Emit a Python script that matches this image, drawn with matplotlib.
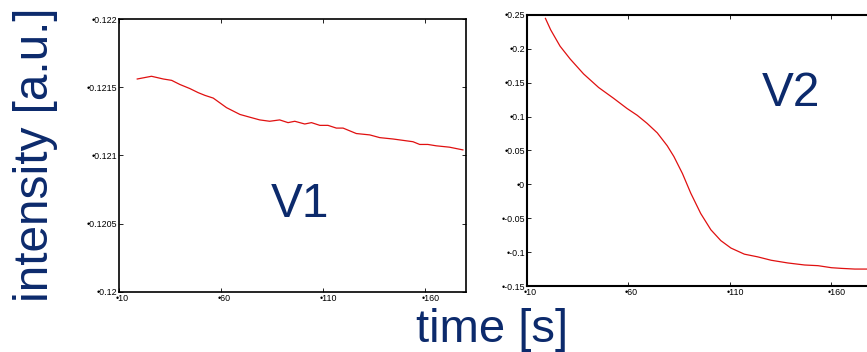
import matplotlib
matplotlib.use("Agg")
import matplotlib.pyplot as plt
import matplotlib.transforms as mt

plt.rcParams['font.family'] = ['Liberation Sans', 'DejaVu Sans']

# ---- data ----
v1_t = [18.8, 25.8, 31.6, 35.7, 39.7, 44.6, 48.7, 52.0, 56.1, 62.6, 69.2, 74.0,
        78.9, 83.8, 88.7, 92.8, 96.1, 101.0, 104.3, 108.4, 112.4, 116.5, 119.8,
        126.3, 132.9, 137.8, 144.3, 149.2, 154.1, 157.4, 161.4, 165.5, 172.0, 178.6]
v1_i = [0.12156, 0.12158, 0.12156, 0.12155, 0.12152, 0.12149, 0.12146, 0.12144,
        0.12142, 0.12135, 0.12130, 0.12128, 0.12126, 0.12125, 0.12126, 0.12124,
        0.12125, 0.12123, 0.12124, 0.12122, 0.12122, 0.12120, 0.12120, 0.12116,
        0.12115, 0.12113, 0.12112, 0.12111, 0.12110, 0.12108, 0.12108, 0.12107,
        0.12106, 0.12104]

v2_t = [19.1, 21.7, 26.3, 31.3, 37.9, 45.3, 52.7, 59.3, 64.3, 69.2, 74.2, 79.1,
        82.4, 86.6, 90.7, 95.6, 100.6, 105.5, 110.5, 117.1, 123.7, 130.3, 138.5,
        146.8, 153.4, 160.0, 165.0, 171.5, 178.2]
v2_i = [0.245, 0.228, 0.204, 0.185, 0.163, 0.143, 0.127, 0.112, 0.102, 0.090,
        0.076, 0.057, 0.041, 0.016, -0.013, -0.043, -0.067, -0.083, -0.094,
        -0.103, -0.107, -0.112, -0.116, -0.119, -0.120, -0.123, -0.124, -0.125,
        -0.125]

x_ticks = [10, 60, 110, 160]
x_labels = ['•10', '•60', '•110', '•160']
v1_yticks = [0.12, 0.1205, 0.121, 0.1215, 0.122]
v1_ylabels = ['•0.12', '•0.1205', '•0.121', '•0.1215', '•0.122']
v2_yticks = [-0.15, -0.1, -0.05, 0, 0.05, 0.1, 0.15, 0.2, 0.25]
v2_ylabels = ['•-0.15', '•-0.1', '•-0.05', '•0', '•0.05', '•0.1', '•0.15', '•0.2', '•0.25']

navy = '#0c2a6c'
red = '#e01010'

fig = plt.figure(figsize=(8.67, 3.52), dpi=100)

ax1 = fig.add_axes([0.1376, 0.1713, 0.3996, 0.7747])
ax2 = fig.add_axes([0.6078, 0.1875, 0.398, 0.7699])

def style(ax, yt, yl, ylim, lw):
    ax.set_xlim(10, 180)
    ax.set_ylim(*ylim)
    ax.set_xticks(x_ticks)
    ax.set_xticklabels(x_labels, fontsize=6.4, ha='left')
    ax.set_yticks(yt)
    ax.set_yticklabels(yl, fontsize=6.4)
    ax.tick_params(direction='in', length=3, width=0.6, top=True, right=True,
                   pad=1.5)
    for s in ax.spines.values():
        s.set_linewidth(lw)
    off = mt.ScaledTranslation(-2.5 / 72, 0, fig.dpi_scale_trans)
    for lab in ax.get_xticklabels():
        lab.set_transform(lab.get_transform() + off)

ax1.plot(v1_t, v1_i, color=red, lw=0.9)
style(ax1, v1_yticks, v1_ylabels, (0.12, 0.122), 1.2)
ax2.plot(v2_t, v2_i, color=red, lw=0.9)
style(ax2, v2_yticks, v2_ylabels, (-0.15, 0.25), 1.5)

fig.text(300 / 867, 1 - 217 / 352, 'V1', fontsize=34.4, color=navy,
         ha='center', va='baseline')
fig.text(790.5 / 867, 1 - 106 / 352, 'V2', fontsize=34.4, color=navy,
         ha='center', va='baseline')
fig.text(492 / 867, 1 - 342.5 / 352, 'time [s]', fontsize=34, color=navy,
         ha='center', va='baseline')
fig.text(48 / 867, 1 - 155 / 352, 'intensity [a.u.]', fontsize=34.4, color=navy,
         ha='center', va='baseline', rotation=90, rotation_mode='anchor')

fig.savefig('out.png', dpi=100)
